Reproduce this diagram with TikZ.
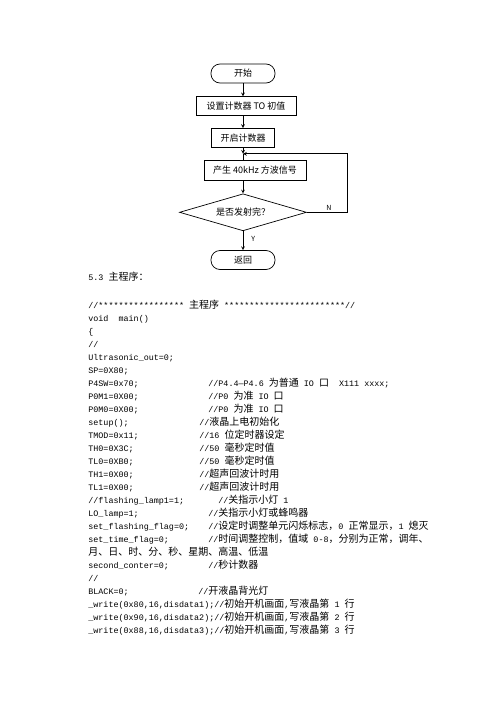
\documentclass[tikz,border=0pt]{standalone}
\usepackage{fontspec}
\setmainfont{Noto Sans CJK SC}
\newfontfamily\cjk{Noto Sans CJK SC}
\newfontfamily\codefont{Liberation Mono}[Scale=0.84]
\usetikzlibrary{shapes,arrows,positioning}
\newcommand{\zh}[1]{{\cjk #1}}

\begin{document}
\begin{tikzpicture}[x=1pt, y=-1pt, >=stealth, line width=0.7pt,
  every node/.style={font=\cjk\fontsize{9}{11}\selectfont},
  term/.style={draw, rectangle, rounded corners=9pt, minimum width=64pt, minimum height=19pt, inner sep=1pt},
  proc/.style={draw, rectangle, minimum height=19pt, inner sep=1pt},
  decide/.style={draw, diamond, aspect=3.4, minimum width=127pt, minimum height=37pt, inner sep=0pt},
  yn/.style={font=\cjk\fontsize{7}{8}\selectfont, inner sep=0pt},
  code/.style={anchor=west, inner sep=0pt, text height=8pt, text depth=2pt, font=\codefont\fontsize{10}{13}\selectfont}]
\useasboundingbox (0,0) rectangle (500,707);

% flowchart
\node[term] (start) at (243,73.5) {开始};
\node[proc, minimum width=100pt, below=13pt of start, xshift=3pt] (init) {设置计数器 TO 初值};
\node[proc, minimum width=63pt, below=12pt of init, xshift=-3pt] (run) {开启计数器};
\coordinate[below=6pt of run] (join);
\node[proc, minimum width=102pt, minimum height=20pt, below=12pt of run, xshift=12pt] (wave) {产生 40kHz 方波信号};
\node[decide, below=13pt of wave, xshift=-12pt] (done) {是否发射完？};
\node[term, below=19pt of done] (ret) {返回};
\coordinate[right=40pt of done.east] (corner);

\draw[->] (start) -- (start |- init.north);
\draw[->] (init.south -| start) -- (run);
\draw[->] (run) -- (join);
\draw (join) -- (join |- wave.north);
\draw[->] (wave.south -| join) -- (done);
\draw[->] (done) -- node[yn, right, pos=0.4, xshift=8pt] {Y} (ret);
\draw[->] (done.east) -- node[yn, above, pos=0.55, yshift=1pt] {N} (corner) |- (join);

% program text
\node[code] (title) at (88,277) {5.3 \zh{主程序：}};
\node[code] (l1) at (88,305) {//*****************\ \zh{主程序}\ ************************//};
\node[code] (l2) at (88,318) {void\ \ main()};
\node[code] (l3) at (88,331) {\{};
\node[code] (l4) at (88,344) {//};
\node[code] (l5) at (88,357) {Ultrasonic\_out=0;};
\node[code] (l6) at (88,370) {SP=0X80;};
\node[code] (l7) at (88,383) {\makebox[120pt][l]{P4SW=0x70;}//P4.4—P4.6 \zh{为普通} IO \zh{口}\ \ X111 xxxx;};
\node[code] (l8) at (88,396) {\makebox[120pt][l]{P0M1=0X00;}//P0 \zh{为准} IO \zh{口}};
\node[code] (l9) at (88,409) {\makebox[120pt][l]{P0M0=0X00;}//P0 \zh{为准} IO \zh{口}};
\node[code] (l10) at (88,422) {\makebox[111pt][l]{setup();}//\zh{液晶上电初始化}};
\node[code] (l11) at (88,435) {\makebox[111pt][l]{TMOD=0x11;}//16 \zh{位定时器设定}};
\node[code] (l12) at (88,448) {\makebox[111pt][l]{TH0=0X3C;}//50 \zh{毫秒定时值}};
\node[code] (l13) at (88,461) {\makebox[111pt][l]{TL0=0XB0;}//50 \zh{毫秒定时值}};
\node[code] (l14) at (88,474) {\makebox[111pt][l]{TH1=0X00;}//\zh{超声回波计时用}};
\node[code] (l15) at (88,487) {\makebox[111pt][l]{TL1=0X00;}//\zh{超声回波计时用}};
\node[code] (l16) at (88,500) {\makebox[130pt][l]{//flashing\_lamp1=1;}//\zh{关指示小灯} 1};
\node[code] (l17) at (88,513) {\makebox[120pt][l]{LO\_lamp=1;}//\zh{关指示小灯或蜂鸣器}};
\node[code] (l18) at (88,526) {\makebox[120pt][l]{set\_flashing\_flag=0;}//\zh{设定时调整单元闪烁标志，}0 \zh{正常显示，}1 \zh{熄灭}};
\node[code] (l19) at (88,539) {\makebox[120pt][l]{set\_time\_flag=0;}//\zh{时间调整控制，值域} 0-8\zh{，分别为正常，调年、}};
\node[code] (l20) at (88,552) {\zh{月、日、时、分、秒、星期、高温、低温}};
\node[code] (l21) at (88,565) {\makebox[120pt][l]{second\_conter=0;}//\zh{秒计数器}};
\node[code] (l22) at (88,578) {//};
\node[code] (l23) at (88,591) {\makebox[110pt][l]{BLACK=0;}//\zh{开液晶背光灯}};
\node[code] (l24) at (88,604) {\_write(0x80,16,disdata1);//\zh{初始开机画面},\zh{写液晶第} 1 \zh{行}};
\node[code] (l25) at (88,617) {\_write(0x90,16,disdata2);//\zh{初始开机画面},\zh{写液晶第} 2 \zh{行}};
\node[code] (l26) at (88,630) {\_write(0x88,16,disdata3);//\zh{初始开机画面},\zh{写液晶第} 3 \zh{行}};
\end{tikzpicture}
\end{document}
